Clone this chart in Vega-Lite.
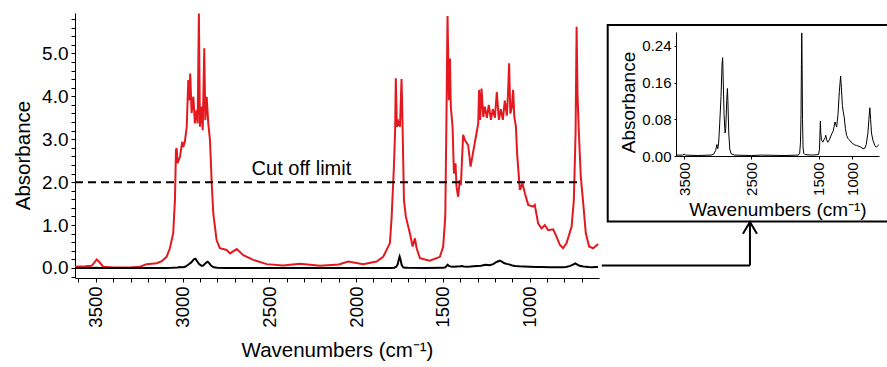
{
  "$schema": "https://vega.github.io/schema/vega-lite/v6.json",
  "padding": {"left": 13, "top": 9, "right": 0, "bottom": 0},
  "background": "white",
  "config": {
    "view": {"stroke": null},
    "font": "Liberation Sans",
    "axis": {"grid": false, "ticks": true, "domainColor": "black", "domainWidth": 1, "tickColor": "black", "labelColor": "black", "titleColor": "black", "titleFontWeight": "normal", "labelFont": "Liberation Sans", "titleFont": "Liberation Sans", "labelOverlap": false, "labelFlush": false}
  },
  "datasets": {
    "red": [
      {"wavenumber": 3620, "absorbance": 0.03}, {"wavenumber": 3560, "absorbance": 0.04}, {"wavenumber": 3524, "absorbance": 0.05},
      {"wavenumber": 3510, "absorbance": 0.12}, {"wavenumber": 3495, "absorbance": 0.2}, {"wavenumber": 3480, "absorbance": 0.14},
      {"wavenumber": 3457, "absorbance": 0.03}, {"wavenumber": 3400, "absorbance": 0.01}, {"wavenumber": 3300, "absorbance": 0.01},
      {"wavenumber": 3245, "absorbance": 0.03}, {"wavenumber": 3207, "absorbance": 0.09}, {"wavenumber": 3149, "absorbance": 0.11},
      {"wavenumber": 3120, "absorbance": 0.16}, {"wavenumber": 3092, "absorbance": 0.26}, {"wavenumber": 3073, "absorbance": 0.46},
      {"wavenumber": 3054, "absorbance": 0.81}, {"wavenumber": 3044, "absorbance": 1.58}, {"wavenumber": 3038, "absorbance": 2.75},
      {"wavenumber": 3034, "absorbance": 2.79}, {"wavenumber": 3029, "absorbance": 2.44}, {"wavenumber": 3015, "absorbance": 2.59},
      {"wavenumber": 3002, "absorbance": 2.94}, {"wavenumber": 2996, "absorbance": 2.82}, {"wavenumber": 2987, "absorbance": 2.94},
      {"wavenumber": 2976, "absorbance": 3.29}, {"wavenumber": 2967, "absorbance": 4.38}, {"wavenumber": 2961, "absorbance": 3.91},
      {"wavenumber": 2956, "absorbance": 4.53}, {"wavenumber": 2948, "absorbance": 3.61}, {"wavenumber": 2938, "absorbance": 3.99},
      {"wavenumber": 2929, "absorbance": 3.37}, {"wavenumber": 2919, "absorbance": 3.68}, {"wavenumber": 2913, "absorbance": 3.37},
      {"wavenumber": 2906, "absorbance": 5.93}, {"wavenumber": 2900, "absorbance": 3.29}, {"wavenumber": 2890, "absorbance": 3.76},
      {"wavenumber": 2884, "absorbance": 3.21}, {"wavenumber": 2875, "absorbance": 5.12}, {"wavenumber": 2869, "absorbance": 3.45},
      {"wavenumber": 2861, "absorbance": 3.99}, {"wavenumber": 2852, "absorbance": 3.37}, {"wavenumber": 2842, "absorbance": 2.98},
      {"wavenumber": 2832, "absorbance": 1.97}, {"wavenumber": 2823, "absorbance": 1.27}, {"wavenumber": 2804, "absorbance": 0.65},
      {"wavenumber": 2785, "absorbance": 0.46}, {"wavenumber": 2746, "absorbance": 0.42}, {"wavenumber": 2727, "absorbance": 0.34},
      {"wavenumber": 2688, "absorbance": 0.44}, {"wavenumber": 2650, "absorbance": 0.3}, {"wavenumber": 2593, "absorbance": 0.19},
      {"wavenumber": 2515, "absorbance": 0.09}, {"wavenumber": 2420, "absorbance": 0.06}, {"wavenumber": 2324, "absorbance": 0.1},
      {"wavenumber": 2208, "absorbance": 0.05}, {"wavenumber": 2100, "absorbance": 0.08}, {"wavenumber": 2045, "absorbance": 0.15},
      {"wavenumber": 1959, "absorbance": 0.09}, {"wavenumber": 1882, "absorbance": 0.15}, {"wavenumber": 1844, "absorbance": 0.26},
      {"wavenumber": 1805, "absorbance": 0.58}, {"wavenumber": 1795, "absorbance": 1.19}, {"wavenumber": 1782, "absorbance": 2.36},
      {"wavenumber": 1775, "absorbance": 3.21}, {"wavenumber": 1771, "absorbance": 4.42}, {"wavenumber": 1765, "absorbance": 3.29},
      {"wavenumber": 1757, "absorbance": 3.41}, {"wavenumber": 1747, "absorbance": 3.29}, {"wavenumber": 1738, "absorbance": 4.4},
      {"wavenumber": 1732, "absorbance": 3.29}, {"wavenumber": 1724, "absorbance": 1.58}, {"wavenumber": 1713, "absorbance": 1.19},
      {"wavenumber": 1690, "absorbance": 0.81}, {"wavenumber": 1674, "absorbance": 0.5}, {"wavenumber": 1661, "absorbance": 0.69},
      {"wavenumber": 1651, "absorbance": 0.46}, {"wavenumber": 1632, "absorbance": 0.23}, {"wavenumber": 1575, "absorbance": 0.17},
      {"wavenumber": 1517, "absorbance": 0.26}, {"wavenumber": 1498, "absorbance": 0.5}, {"wavenumber": 1486, "absorbance": 1.19},
      {"wavenumber": 1478, "absorbance": 3.91}, {"wavenumber": 1473, "absorbance": 5.87}, {"wavenumber": 1465, "absorbance": 3.91},
      {"wavenumber": 1459, "absorbance": 4.88}, {"wavenumber": 1454, "absorbance": 3.76}, {"wavenumber": 1444, "absorbance": 3.29},
      {"wavenumber": 1436, "absorbance": 2.2}, {"wavenumber": 1427, "absorbance": 2.44}, {"wavenumber": 1421, "absorbance": 1.89},
      {"wavenumber": 1412, "absorbance": 1.66}, {"wavenumber": 1402, "absorbance": 2.05}, {"wavenumber": 1396, "absorbance": 1.93},
      {"wavenumber": 1383, "absorbance": 3.1}, {"wavenumber": 1373, "absorbance": 2.98}, {"wavenumber": 1354, "absorbance": 2.86},
      {"wavenumber": 1340, "absorbance": 2.36}, {"wavenumber": 1325, "absorbance": 2.71}, {"wavenumber": 1306, "absorbance": 3.14},
      {"wavenumber": 1296, "absorbance": 3.37}, {"wavenumber": 1291, "absorbance": 4.15}, {"wavenumber": 1285, "absorbance": 3.45},
      {"wavenumber": 1277, "absorbance": 4.18}, {"wavenumber": 1267, "absorbance": 3.52}, {"wavenumber": 1258, "absorbance": 3.76},
      {"wavenumber": 1246, "absorbance": 3.5}, {"wavenumber": 1235, "absorbance": 3.8}, {"wavenumber": 1223, "absorbance": 3.45},
      {"wavenumber": 1212, "absorbance": 3.7}, {"wavenumber": 1200, "absorbance": 3.5}, {"wavenumber": 1189, "absorbance": 4.1},
      {"wavenumber": 1177, "absorbance": 3.45}, {"wavenumber": 1166, "absorbance": 3.7}, {"wavenumber": 1154, "absorbance": 3.45},
      {"wavenumber": 1143, "absorbance": 3.9}, {"wavenumber": 1131, "absorbance": 3.55}, {"wavenumber": 1124, "absorbance": 4.1},
      {"wavenumber": 1118, "absorbance": 4.77}, {"wavenumber": 1111, "absorbance": 3.6}, {"wavenumber": 1102, "absorbance": 3.75},
      {"wavenumber": 1095, "absorbance": 4.15}, {"wavenumber": 1088, "absorbance": 3.52}, {"wavenumber": 1079, "absorbance": 3.3},
      {"wavenumber": 1072, "absorbance": 2.67}, {"wavenumber": 1056, "absorbance": 1.82}, {"wavenumber": 1041, "absorbance": 1.97},
      {"wavenumber": 1027, "absorbance": 1.74}, {"wavenumber": 1008, "absorbance": 1.47}, {"wavenumber": 979, "absorbance": 1.43},
      {"wavenumber": 970, "absorbance": 1.47}, {"wavenumber": 951, "absorbance": 1.04}, {"wavenumber": 931, "absorbance": 0.92},
      {"wavenumber": 912, "absorbance": 1.0}, {"wavenumber": 893, "absorbance": 0.88}, {"wavenumber": 864, "absorbance": 0.9},
      {"wavenumber": 845, "absorbance": 0.73}, {"wavenumber": 826, "absorbance": 0.54}, {"wavenumber": 807, "absorbance": 0.46},
      {"wavenumber": 787, "absorbance": 0.58}, {"wavenumber": 758, "absorbance": 0.96}, {"wavenumber": 745, "absorbance": 1.58},
      {"wavenumber": 735, "absorbance": 3.14}, {"wavenumber": 729, "absorbance": 5.62}, {"wavenumber": 724, "absorbance": 4.07},
      {"wavenumber": 716, "absorbance": 3.14}, {"wavenumber": 705, "absorbance": 2.13}, {"wavenumber": 691, "absorbance": 1.51},
      {"wavenumber": 676, "absorbance": 0.81}, {"wavenumber": 657, "absorbance": 0.5}, {"wavenumber": 634, "absorbance": 0.46},
      {"wavenumber": 605, "absorbance": 0.56}
    ],
    "black": [
      {"wavenumber": 3620, "absorbance": 0.002}, {"wavenumber": 3520, "absorbance": 0.002}, {"wavenumber": 3500, "absorbance": 0.004},
      {"wavenumber": 3480, "absorbance": 0.002}, {"wavenumber": 3300, "absorbance": 0.001}, {"wavenumber": 3100, "absorbance": 0.002},
      {"wavenumber": 3060, "absorbance": 0.004}, {"wavenumber": 3030, "absorbance": 0.012}, {"wavenumber": 3012, "absorbance": 0.025},
      {"wavenumber": 3005, "absorbance": 0.02}, {"wavenumber": 2998, "absorbance": 0.016}, {"wavenumber": 2985, "absorbance": 0.03},
      {"wavenumber": 2970, "absorbance": 0.07}, {"wavenumber": 2950, "absorbance": 0.13}, {"wavenumber": 2935, "absorbance": 0.2},
      {"wavenumber": 2926, "absorbance": 0.214}, {"wavenumber": 2918, "absorbance": 0.17}, {"wavenumber": 2905, "absorbance": 0.09},
      {"wavenumber": 2890, "absorbance": 0.05}, {"wavenumber": 2880, "absorbance": 0.06}, {"wavenumber": 2865, "absorbance": 0.12},
      {"wavenumber": 2855, "absorbance": 0.147}, {"wavenumber": 2848, "absorbance": 0.12}, {"wavenumber": 2835, "absorbance": 0.05},
      {"wavenumber": 2820, "absorbance": 0.015}, {"wavenumber": 2800, "absorbance": 0.005}, {"wavenumber": 2750, "absorbance": 0.002},
      {"wavenumber": 2500, "absorbance": 0.001}, {"wavenumber": 2350, "absorbance": 0.002}, {"wavenumber": 2000, "absorbance": 0.001},
      {"wavenumber": 1800, "absorbance": 0.002}, {"wavenumber": 1780, "absorbance": 0.006}, {"wavenumber": 1768, "absorbance": 0.03},
      {"wavenumber": 1760, "absorbance": 0.09}, {"wavenumber": 1754, "absorbance": 0.2}, {"wavenumber": 1749, "absorbance": 0.268},
      {"wavenumber": 1744, "absorbance": 0.2}, {"wavenumber": 1738, "absorbance": 0.08}, {"wavenumber": 1730, "absorbance": 0.02},
      {"wavenumber": 1720, "absorbance": 0.006}, {"wavenumber": 1700, "absorbance": 0.003}, {"wavenumber": 1600, "absorbance": 0.002},
      {"wavenumber": 1500, "absorbance": 0.003}, {"wavenumber": 1485, "absorbance": 0.015}, {"wavenumber": 1476, "absorbance": 0.06},
      {"wavenumber": 1472, "absorbance": 0.076}, {"wavenumber": 1466, "absorbance": 0.05}, {"wavenumber": 1455, "absorbance": 0.035},
      {"wavenumber": 1436, "absorbance": 0.03}, {"wavenumber": 1420, "absorbance": 0.035}, {"wavenumber": 1400, "absorbance": 0.04},
      {"wavenumber": 1392, "absorbance": 0.045}, {"wavenumber": 1378, "absorbance": 0.035}, {"wavenumber": 1362, "absorbance": 0.03},
      {"wavenumber": 1340, "absorbance": 0.035}, {"wavenumber": 1304, "absorbance": 0.048}, {"wavenumber": 1280, "absorbance": 0.055},
      {"wavenumber": 1255, "absorbance": 0.074}, {"wavenumber": 1240, "absorbance": 0.068}, {"wavenumber": 1230, "absorbance": 0.063},
      {"wavenumber": 1210, "absorbance": 0.09}, {"wavenumber": 1190, "absorbance": 0.14}, {"wavenumber": 1171, "absorbance": 0.174},
      {"wavenumber": 1160, "absorbance": 0.15}, {"wavenumber": 1145, "absorbance": 0.11}, {"wavenumber": 1132, "absorbance": 0.096},
      {"wavenumber": 1118, "absorbance": 0.085}, {"wavenumber": 1100, "absorbance": 0.06}, {"wavenumber": 1082, "absorbance": 0.045},
      {"wavenumber": 1060, "absorbance": 0.038}, {"wavenumber": 1034, "absorbance": 0.034}, {"wavenumber": 1000, "absorbance": 0.028},
      {"wavenumber": 960, "absorbance": 0.024}, {"wavenumber": 935, "absorbance": 0.023}, {"wavenumber": 880, "absorbance": 0.02},
      {"wavenumber": 837, "absorbance": 0.016}, {"wavenumber": 810, "absorbance": 0.017}, {"wavenumber": 790, "absorbance": 0.025},
      {"wavenumber": 765, "absorbance": 0.05}, {"wavenumber": 750, "absorbance": 0.08}, {"wavenumber": 736, "absorbance": 0.105},
      {"wavenumber": 725, "absorbance": 0.08}, {"wavenumber": 712, "absorbance": 0.05}, {"wavenumber": 690, "absorbance": 0.034},
      {"wavenumber": 660, "absorbance": 0.022}, {"wavenumber": 640, "absorbance": 0.019}, {"wavenumber": 620, "absorbance": 0.022},
      {"wavenumber": 606, "absorbance": 0.025}
    ]
  },
  "bounds": "flush",
  "spacing": 77,
  "hconcat": [
    {
      "width": 524,
      "height": 265,
      "layer": [
        {
          "data": {"name": "red"},
          "mark": {"type": "line", "color": "#e3191f", "strokeWidth": 2},
          "encoding": {
            "x": {
              "field": "wavenumber", "type": "quantitative",
              "scale": {"domain": [600, 3620], "reverse": true, "nice": false, "zero": false},
              "axis": {
                "orient": "bottom",
                "values": [700, 800, 900, 1000, 1100, 1200, 1300, 1400, 1500, 1600, 1700, 1800, 1900, 2000, 2100, 2200, 2300, 2400, 2500, 2600, 2700, 2800, 2900, 3000, 3100, 3200, 3300, 3400, 3500, 3600],
                "tickCount": 1000,
                "format": "d",
                "labelExpr": "datum.value % 500 === 0 ? datum.label : ''",
                "labelFontSize": {"condition": {"test": "datum.value % 500 !== 0", "value": 0}, "value": 18.5},
                "labelOverlap": false, "labelFlush": false,
                "labelAngle": -90, "labelPadding": 4,
                "ticks": true, "tickSize": 4, "tickWidth": 1, "tickColor": "black",
                "title": "Wavenumbers (cm⁻¹)", "titleFontSize": 20.5, "titlePadding": 13
              }
            },
            "y": {
              "field": "absorbance", "type": "quantitative",
              "scale": {"domain": [-0.233, 5.94], "nice": false, "zero": false},
              "axis": {
                "orient": "left",
                "values": [-0.2, 0, 0.2, 0.4, 0.6, 0.8, 1, 1.2, 1.4, 1.6, 1.8, 2, 2.2, 2.4, 2.6, 2.8, 3, 3.2, 3.4, 3.6, 3.8, 4, 4.2, 4.4, 4.6, 4.8, 5, 5.2, 5.4, 5.6, 5.8],
                "tickCount": 1000,
                "labelExpr": "abs(datum.value - round(datum.value)) < 0.001 ? format(datum.value, '.1f') : ''",
                "labelFontSize": {"condition": {"test": "abs(datum.value - round(datum.value)) >= 0.001", "value": 0}, "value": 19},
                "labelOverlap": false, "labelFlush": false,
                "labelPadding": 3,
                "ticks": true, "tickSize": 4, "tickWidth": 1, "tickColor": "black",
                "title": "Absorbance", "titleFontSize": 20.5, "titlePadding": 8, "titleY": 142
              }
            }
          }
        },
        {
          "data": {"name": "black"},
          "mark": {"type": "line", "color": "black", "strokeWidth": 2},
          "encoding": {
            "x": {"field": "wavenumber", "type": "quantitative"},
            "y": {"field": "absorbance", "type": "quantitative"}
          }
        },
        {
          "data": {"values": [{}]},
          "mark": {"type": "rule", "color": "black", "strokeWidth": 2, "strokeDash": [8, 5]},
          "encoding": {
            "x": {"datum": 3620, "type": "quantitative"},
            "x2": {"datum": 700},
            "y": {"datum": 2, "type": "quantitative"}
          }
        },
        {
          "data": {"values": [{}]},
          "mark": {"type": "text", "fontSize": 20, "align": "center", "baseline": "alphabetic", "color": "black", "font": "Liberation Sans"},
          "encoding": {
            "x": {"datum": 2315, "type": "quantitative"},
            "y": {"datum": 2.17, "type": "quantitative"},
            "text": {"value": "Cut off limit"}
          }
        },
        {
          "data": {"values": [{}]},
          "mark": {"type": "rule", "color": "black", "strokeWidth": 2},
          "encoding": {
            "x": {"datum": 584, "type": "quantitative"},
            "x2": {"datum": -270},
            "y": {"datum": 0.06, "type": "quantitative"}
          }
        },
        {
          "data": {"values": [{}]},
          "mark": {"type": "rule", "color": "black", "strokeWidth": 2},
          "encoding": {
            "x": {"datum": -270, "type": "quantitative"},
            "y": {"datum": 0.06, "type": "quantitative"},
            "y2": {"datum": 1.07}
          }
        },
        {
          "data": {"values": [{}]},
          "mark": {"type": "point", "shape": "M-0.6,1L0,0L0.6,1", "filled": false, "stroke": "black", "strokeWidth": 2, "size": 547, "opacity": 1},
          "encoding": {
            "x": {"datum": -270, "type": "quantitative"},
            "y": {"datum": 1.07, "type": "quantitative"}
          }
        }
      ]
    },
    {
      "width": 203,
      "height": 265,
      "layer": [
        {
          "data": {"name": "black"},
          "mark": {"type": "line", "color": "black", "strokeWidth": 1},
          "encoding": {
            "x": {
              "field": "wavenumber", "type": "quantitative",
              "scale": {"domain": [600, 3620], "reverse": true, "nice": false, "zero": false},
              "axis": {
                "orient": "bottom", "offset": -122,
                "values": [3500, 2500, 1500, 1000], "tickCount": 1000, "format": "d",
                "labelOverlap": false, "labelFlush": false,
                "labelAngle": -90, "labelFontSize": 15, "labelPadding": 3,
                "ticks": true, "tickSize": 3, "tickWidth": 1, "tickColor": "black",
                "title": "Wavenumbers (cm⁻¹)", "titleFontSize": 19, "titlePadding": 5
              }
            },
            "y": {
              "field": "absorbance", "type": "quantitative",
              "scale": {"domain": [0, 0.27], "range": [143, 19], "nice": false, "zero": false},
              "axis": {
                "orient": "left",
                "values": [0, 0.08, 0.16, 0.24], "tickCount": 1000, "format": ".2f",
                "labelOverlap": false, "labelFlush": false,
                "labelFontSize": 15, "labelPadding": 3,
                "ticks": true, "tickSize": 2, "tickWidth": 1, "tickColor": "black",
                "title": "Absorbance", "titleFontSize": 19, "titlePadding": 3, "titleY": 89
              }
            }
          }
        },
        {
          "data": {"values": [{}]},
          "mark": {"type": "rect", "filled": false, "stroke": "black", "strokeWidth": 2},
          "encoding": {
            "x": {"datum": 4636, "type": "quantitative"},
            "x2": {"datum": 451},
            "y": {"datum": 0.2853, "type": "quantitative"},
            "y2": {"datum": -0.1427}
          }
        }
      ]
    }
  ]
}
